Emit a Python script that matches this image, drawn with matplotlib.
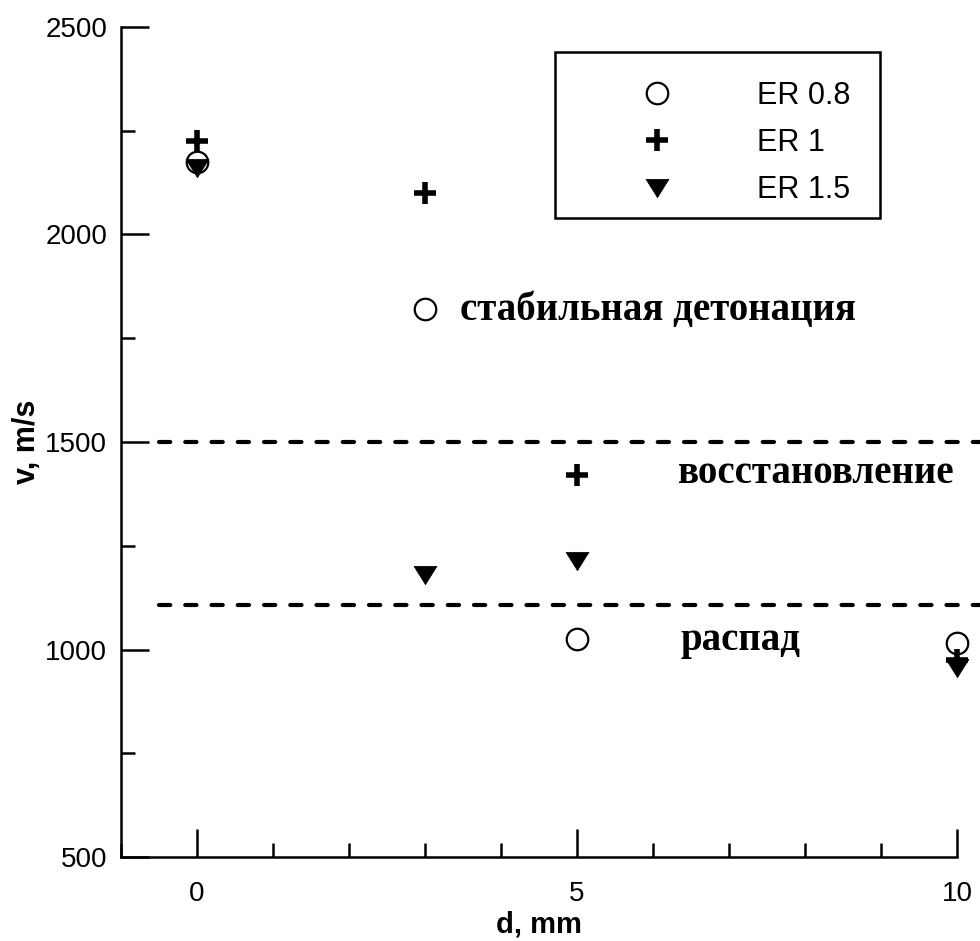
import matplotlib
matplotlib.use('Agg')
import matplotlib.pyplot as plt
from matplotlib.patches import Rectangle
from matplotlib.ticker import MultipleLocator

plt.rcParams['font.family'] = ['Liberation Sans', 'DejaVu Sans']

# d, mm
d = [0, 3, 5, 10]
# detonation velocity, m/s
v_er08 = [2175, 1820, 1025, 1015]
v_er1 = [2225, 2100, 1420, 975]
v_er15 = [2160, 1180, 1213, 955]

labels = ['ER 0.8', 'ER 1', 'ER 1.5']
bounds = [1500, 1108]

zones = [('стабильная детонация', 3.46, 1818),
         ('восстановление', 6.33, 1425),
         ('распад', 6.36, 1022)]

tri = [(-1, 0.8), (1, 0.8), (0, -0.8), (-1, 0.8)]

fig = plt.figure(figsize=(9.8, 9.41), dpi=100)
ax = fig.add_axes([121/980, 1 - 857/941, (957 - 121)/980, (857 - 27)/941])

ax.plot(d, v_er08, ls='none', marker='o', ms=15.5, mfc='white', mec='black',
        mew=1.6, label=labels[0], zorder=3, clip_on=False)
ax.plot(d, v_er1, ls='none', marker='+', ms=16, mec='black', mew=4,
        label=labels[1], zorder=4, clip_on=False)
ax.plot(d, v_er15, ls='none', marker=tri, ms=16.5, mfc='black', mec='black',
        mew=0.5, label=labels[2], zorder=5, clip_on=False)

for b in bounds:
    ax.plot([-0.5, 10.3], [b, b], color='black', lw=3, ls=(0, (2.7, 3.6)),
            dash_capstyle='round', clip_on=False, zorder=2)

for txt, x, y in zones:
    ax.text(x, y, txt, fontfamily='Liberation Serif', fontweight='bold',
            fontsize=28, ha='left', va='center')

ax.set_xlim(-1, 10)
ax.set_ylim(500, 2500)
ax.xaxis.set_major_locator(MultipleLocator(5))
ax.xaxis.set_minor_locator(MultipleLocator(1))
ax.yaxis.set_major_locator(MultipleLocator(500))
ax.yaxis.set_minor_locator(MultipleLocator(250))

ax.spines['top'].set_visible(False)
ax.spines['right'].set_visible(False)
for s in ['left', 'bottom']:
    ax.spines[s].set_linewidth(1.8)

ax.tick_params(which='major', direction='in', length=20, width=1.8,
               labelsize=20)
ax.tick_params(which='minor', direction='in', length=10, width=1.8)
ax.tick_params(axis='x', which='major', pad=17)
ax.tick_params(axis='y', which='major', pad=10)

ax.set_xlabel('d, mm', fontsize=21, fontweight='bold', labelpad=3)
ax.set_ylabel('v, m/s', fontsize=22, fontweight='bold', labelpad=2)

leg = ax.legend(loc='upper left', bbox_to_anchor=(555/980, 1 - 52/941),
                bbox_transform=fig.transFigure, fontsize=22, frameon=False,
                borderpad=0.95, labelspacing=0.56,
                handlelength=4.77, handletextpad=0.88, borderaxespad=0)
fig.patches.append(Rectangle((555/980, 1 - 218/941), 325/980, 166/941,
                             transform=fig.transFigure, fill=False,
                             edgecolor='black', linewidth=1.8))

fig.savefig('out.png', dpi=100)
